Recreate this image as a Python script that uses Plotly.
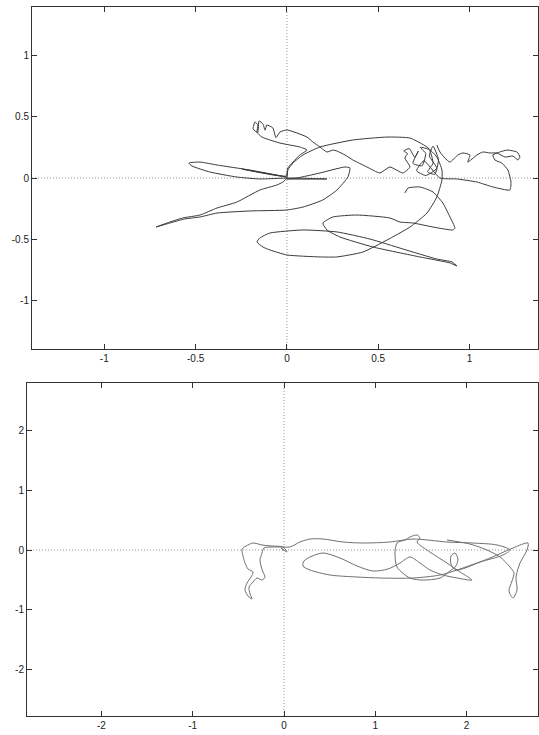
import plotly.graph_objects as go

# Upper panel: trajectory in the plane (x, y)
top_x = [0.646, 0.663, 0.728, 0.80, 0.854, 0.893, 0.92, 0.909, 0.80, 0.69, 0.619, 0.564,
         0.383, 0.252, 0.197, 0.219, 0.29, 0.471, 0.728, 0.893, 0.931, 0.904, 0.821, 0.635,
         0.455, 0.274, 0.088, -0.093, -0.148, -0.164, -0.131, -0.093, 0.0, 0.181, 0.274,
         0.416, 0.548, 0.674, 0.767, 0.821, 0.849, 0.849, 0.821, 0.767, 0.674, 0.548, 0.361,
         0.181, 0.088, 0.033, 0.005, 0.0,
         -0.022, -0.055, -0.148, -0.274, -0.383, -0.476, -0.57, -0.641, -0.717, -0.641,
         -0.559, -0.476, -0.383, -0.203, 0.0, 0.088, 0.197, 0.274, 0.334, 0.345, 0.318,
         0.181, 0.055, 0.0, 0.219, 0.011,
         -0.148, -0.274, -0.422, -0.52, -0.537, -0.476, -0.383, -0.203, -0.055, 0.0,
         -0.246, -0.005,
         0.005, 0.033, 0.071, 0.11, 0.071, 0.016, -0.038, -0.093, -0.137, -0.164, -0.159,
         -0.175, -0.185, -0.16, -0.153, -0.131, -0.12, -0.11, -0.077, -0.06, -0.038, 0.0,
         0.055, 0.11, 0.142, 0.181, 0.219, 0.252, 0.274, 0.318, 0.361, 0.438, 0.509,
         0.564, 0.635, 0.674,
         0.646, 0.66, 0.64, 0.67, 0.70, 0.72, 0.69, 0.74, 0.76, 0.73, 0.78, 0.80, 0.77,
         0.81, 0.83, 0.80, 0.78, 0.82, 0.76, 0.71, 0.75, 0.838,
         0.931, 1.041, 1.128, 1.221, 1.227, 1.21, 1.177, 1.139, 1.128, 1.166, 1.205, 1.26,
         1.276, 1.265, 1.238, 1.194, 1.15, 1.112, 1.073, 1.041, 0.991, 1.002, 0.964, 0.936,
         0.893, 0.865, 0.838, 0.821]
top_y = [-0.122, -0.082, -0.073, -0.114, -0.204, -0.318, -0.408, -0.424, -0.40, -0.367,
         -0.359, -0.326, -0.302, -0.318, -0.367, -0.424, -0.481, -0.563, -0.644, -0.693,
         -0.718, -0.685, -0.661, -0.579, -0.498, -0.44, -0.424, -0.449, -0.489, -0.522,
         -0.563, -0.587, -0.628, -0.644, -0.644, -0.604, -0.506, -0.40, -0.286, -0.155,
         -0.016, 0.065, 0.171, 0.253, 0.326, 0.334, 0.31, 0.253, 0.188, 0.122, 0.065, 0.0,
         -0.033, -0.057, -0.098, -0.196, -0.245, -0.302, -0.326, -0.359, -0.40, -0.367,
         -0.334, -0.318, -0.286, -0.269, -0.261, -0.237, -0.179, -0.098, 0.008, 0.082, 0.09,
         0.041, 0.0, -0.008, -0.008, 0.0,
         -0.008, 0.008, 0.049, 0.098, 0.122, 0.13, 0.106, 0.065, 0.024, 0.008,
         0.073, 0.016,
         0.082, 0.13, 0.188, 0.228, 0.253, 0.269, 0.285, 0.31, 0.334, 0.375, 0.432,
         0.457, 0.40, 0.37, 0.465, 0.44, 0.39, 0.432, 0.408, 0.33, 0.375, 0.392,
         0.367, 0.334, 0.294, 0.253, 0.212, 0.228, 0.22, 0.188, 0.147, 0.09, 0.041,
         0.09, 0.041, 0.09,
         0.163, 0.20, 0.22, 0.24, 0.17, 0.22, 0.12, 0.10, 0.20, 0.25, 0.23, 0.12, 0.05,
         0.03, 0.15, 0.26, 0.18, 0.08, 0.02, 0.06, 0.14, 0.0,
         -0.008, -0.033, -0.073, -0.098, -0.033, 0.065, 0.122, 0.147, 0.188, 0.212, 0.228,
         0.212, 0.171, 0.147, 0.179, 0.171, 0.204, 0.204, 0.212, 0.188, 0.13, 0.188, 0.204,
         0.188, 0.13, 0.163, 0.212, 0.269]

# Lower panel: trajectory in the plane (x, y)
bot_x = [0.0, -0.033, 0.033, -0.011, -0.131, -0.241, -0.339, -0.416, -0.46, -0.449,
         -0.427, -0.394, -0.339, -0.361, -0.405, -0.427, -0.394, -0.35, -0.372, -0.383,
         -0.339, -0.296, -0.241, -0.208, -0.23, -0.252, -0.263, -0.241, -0.219, -0.131,
         0.0, 0.066, 0.175, 0.285, 0.427, 0.646, 0.865, 1.161, 1.413, 1.785, 2.07, 2.333,
         2.475, 2.399, 2.147, 1.895, 1.709, 1.413, 1.051, 0.80, 0.504, 0.285, 0.208, 0.219,
         0.285, 0.427, 0.613, 0.80, 0.975, 1.139, 1.27, 1.38, 1.489, 1.599, 1.741, 1.895,
         2.059, 1.928, 1.785, 1.599, 1.457, 1.489, 1.457, 1.38, 1.325, 1.238, 1.216, 1.238,
         1.38, 1.522, 1.709, 1.818, 1.883, 1.905, 1.873, 1.829, 1.829, 1.883, 2.147, 2.333,
         2.508, 2.672, 2.662, 2.585, 2.541, 2.552, 2.508, 2.464, 2.497, 2.519, 2.475, 2.366,
         2.223, 2.037, 1.785]
bot_y = [0.0, 0.034, -0.034, 0.05, 0.067, 0.084, 0.117, 0.067, 0.017, -0.1, -0.218,
         -0.318, -0.368, -0.452, -0.553, -0.67, -0.771, -0.821, -0.737, -0.62, -0.536,
         -0.469, -0.503, -0.452, -0.368, -0.268, -0.168, -0.05, 0.034, 0.05, 0.05, 0.05,
         0.134, 0.184, 0.184, 0.134, 0.117, 0.134, 0.184, 0.134, 0.117, 0.084, 0.0, -0.084,
         -0.201, -0.335, -0.419, -0.469, -0.469, -0.452, -0.419, -0.335, -0.268, -0.184,
         -0.117, -0.05, -0.134, -0.268, -0.352, -0.318, -0.218, -0.117, -0.218, -0.335,
         -0.419, -0.469, -0.503, -0.368, -0.218, -0.034, 0.134, 0.201, 0.251, 0.218, 0.168,
         0.117, -0.05, -0.285, -0.469, -0.503, -0.469, -0.352, -0.268, -0.151, -0.05, -0.1,
         -0.234, -0.335, -0.201, -0.084, 0.034, 0.117, 0.0, -0.218, -0.452, -0.67, -0.804,
         -0.687, -0.519, -0.385, -0.285, -0.117, 0.0, 0.1, 0.168]

top_ticks = [-1, -0.5, 0, 0.5, 1]
top_ticktext = ["-1", "-0.5", "0", "0.5", "1"]
bot_ticks = [-2, -1, 0, 1, 2]
bot_ticktext = ["-2", "-1", "0", "1", "2"]

W, H = 539, 735

fig = go.Figure()
fig.add_trace(go.Scatter(x=top_x, y=top_y, mode="lines", xaxis="x", yaxis="y",
                         line=dict(color="#3a3a3a", width=1, shape="spline", smoothing=0.5),
                         showlegend=False, hoverinfo="skip"))
fig.add_trace(go.Scatter(x=bot_x, y=bot_y, mode="lines", xaxis="x2", yaxis="y2",
                         line=dict(color="#707070", width=1, shape="spline", smoothing=0.8),
                         showlegend=False, hoverinfo="skip"))

axis_style = dict(showgrid=False, zeroline=False, showline=True, linecolor="#333333",
                  linewidth=1, mirror="allticks", ticks="inside", ticklen=5,
                  tickcolor="#333333", tickwidth=1,
                  tickfont=dict(family="Liberation Sans, Arial, sans-serif", size=10,
                                color="#222222"))

fig.update_layout(
    width=W, height=H, margin=dict(l=0, r=0, t=0, b=0),
    paper_bgcolor="white", plot_bgcolor="white",
    xaxis=dict(domain=[32 / W, 538 / W], range=[-1.396, 1.375], anchor="y",
               tickvals=top_ticks, ticktext=top_ticktext, **axis_style),
    yaxis=dict(domain=[1 - 349 / H, 1 - 7 / H], range=[-1.395, 1.395], anchor="x",
               tickvals=top_ticks, ticktext=top_ticktext, **axis_style),
    xaxis2=dict(domain=[27 / W, 538 / W], range=[-2.815, 2.782], anchor="y2",
                tickvals=bot_ticks, ticktext=bot_ticktext, **axis_style),
    yaxis2=dict(domain=[1 - 716 / H, 1 - 383 / H], range=[-2.78, 2.797], anchor="x2",
                tickvals=bot_ticks, ticktext=bot_ticktext, **axis_style),
)

# fine dotted zero axes in both panels
dot = dict(color="#999999", width=1, dash="1px,2px")
for xr, yr in (("x", "y"), ("x2", "y2")):
    fig.add_shape(type="line", xref=xr, yref=yr + " domain", x0=0, x1=0, y0=0, y1=1,
                  line=dot, layer="below")
    fig.add_shape(type="line", xref=xr + " domain", yref=yr, x0=0, x1=1, y0=0, y1=0,
                  line=dot, layer="below")

fig.write_html("out.html")
